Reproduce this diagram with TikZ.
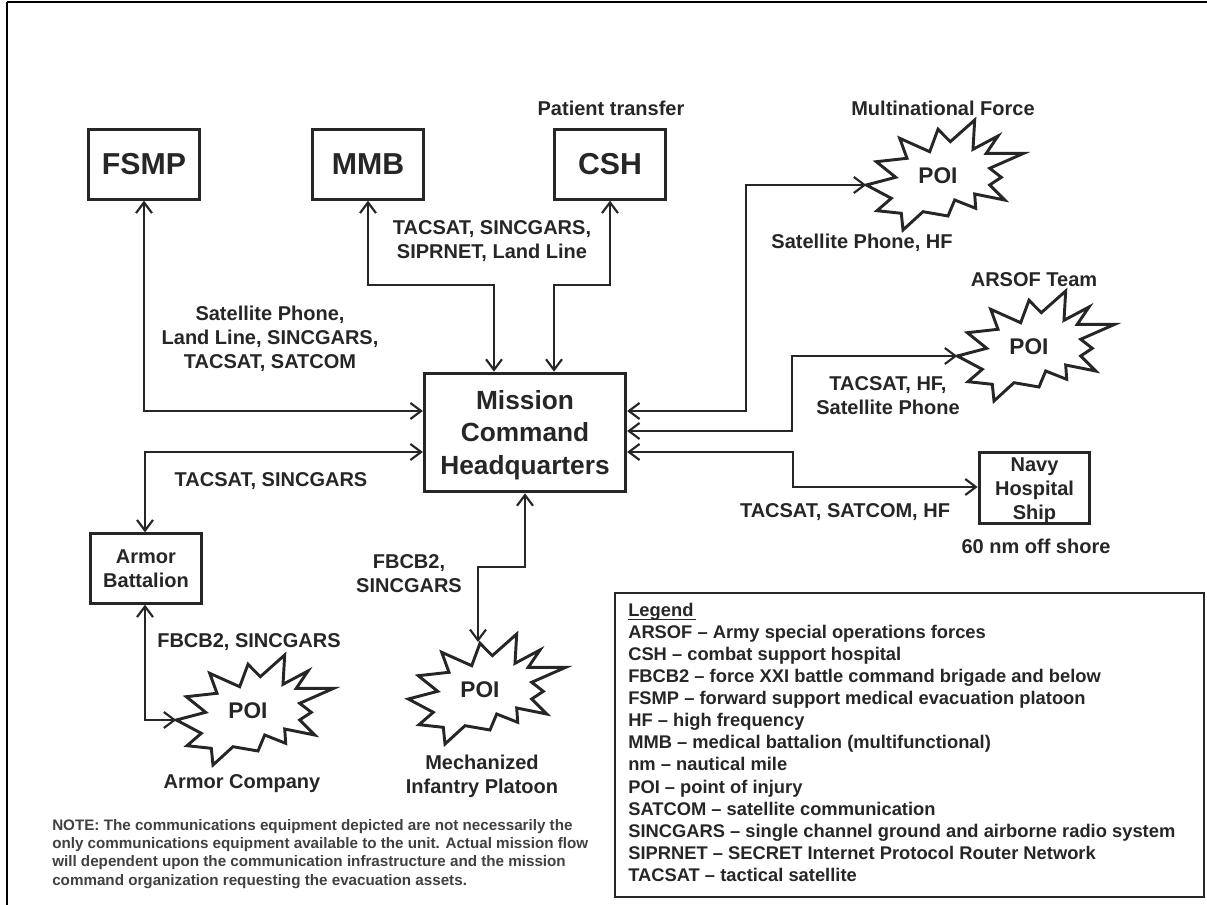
\documentclass[tikz,border=0pt]{standalone}
\usepackage{fontspec}
\setmainfont{Liberation Sans}
\usetikzlibrary{arrows.meta}
\colorlet{ink}{black!85}
\tikzset{
 boxa/.style={draw=ink,line width=2.2pt,fill=white,inner sep=0pt,align=center,text=ink,font=\fontsize{22.7}{26}\selectfont\bfseries},
 lab/.style={align=center,text=ink,inner sep=0pt,font=\fontsize{15}{18}\selectfont\bfseries},
 conn/.style={draw=ink,line width=1.6pt,{Straight Barb[length=8pt,width=12pt,line width=1.6pt]}-{Straight Barb[length=8pt,width=12pt,line width=1.6pt]}},
 burstline/.style={draw=ink,line width=2.2pt,line join=miter,fill=white,miter limit=8}
}
\newcommand{\burst}[3]{%
 \draw[burstline,shift={(#2,#3)}] (-71.7,9) coordinate (#1tipL) -- (-42.3,1.3) -- (-61.7,-14.3) -- (-31,-17.7) -- (-38.3,-37.7) -- (-8.3,-24.3) -- (0,-46.7) -- (12.3,-34.3) -- (36.7,-56) -- (35,-26.7) -- (60,-40) -- (48.3,-22.7) -- (85.7,-22.7) -- (51.7,-7.7) -- (63.3,1.3) -- (51.7,9) -- (66.7,24) -- (36.7,18) -- (37.7,32.3) -- (16.7,24) -- (10,40) -- (-15,35.7) -- (-35,54) -- (-36.7,37.3) -- (-61,34.7) -- (-46.7,22.3) -- cycle;
 \node[font=\fontsize{17}{20}\selectfont\bfseries,text=ink,inner sep=0pt] (#1) at (#2,#3) {POI};
}
\begin{document}
\begin{tikzpicture}[x=0.75pt,y=-0.75pt]
\useasboundingbox (0,0) rectangle (1207,905);
\draw[black,line width=2.2pt] (7,2) -- (7,905);
\draw[black,line width=2.2pt] (7,2) -- (1207,2);
% boxes
\node[boxa,minimum width=83pt,minimum height=52pt] (fsmp) at (144,164.5) {FSMP};
\node[boxa,minimum width=83pt,minimum height=52pt] (mmb) at (368,164.5) {MMB};
\node[boxa,minimum width=83pt,minimum height=52pt] (csh) at (610,164.5) {CSH};
\node[boxa,minimum width=151pt,minimum height=89pt,font=\fontsize{19.7}{24.3}\selectfont\bfseries] (hq) at (525,432.5) {\rule{0pt}{18pt}Mission\\Command\\Headquarters};
\node[boxa,minimum width=83pt,minimum height=52pt,font=\fontsize{15}{18}\selectfont\bfseries] (armor) at (146,568.5) {Armor\\Battalion};
\node[boxa,minimum width=83pt,minimum height=52pt,font=\fontsize{15}{18}\selectfont\bfseries] (navy) at (1034.5,488) {\rule{0pt}{14pt}Navy\\Hospital\\Ship};
% bursts
\burst{poia}{938}{176}
\burst{poib}{1029}{347}
\burst{poic}{248}{711}
\burst{poid}{480}{690}
\coordinate (poidtop) at (478,642);
% connectors
\draw[conn] (fsmp.south) -- (144,411) -- (hq.west |- 0,411);
\draw[conn] (armor.north -| 145,0) -- (145,452) -- (hq.west |- 0,452);
\draw[conn] (armor.south -| 145,0) -- (145,720) -- (poictipL);
\draw[conn] (mmb.south) -- (368,285) -- (494,285) -- (hq.north -| 494,0);
\draw[conn] (csh.south) -- (610,285) -- (554,285) -- (hq.north -| 554,0);
\draw[conn] (hq.east |- 0,411) -- (746,411) -- (746,185) -- (poiatipL);
\draw[conn] (hq.east |- 0,431) -- (792,431) -- (792,356) -- (poibtipL);
\draw[conn] (hq.east |- 0,452) -- (793,452) -- (793,487) -- (navy.west |- 0,487);
\draw[conn] (hq.south) -- (525,567) -- (478,567) -- (poidtop);
% labels
\node[lab] (l1) at (611,108) {Patient transfer};
\node[lab] (l2) at (943,108) {Multinational Force};
\node[lab] (l3) at (1034,280) {ARSOF Team};
\node[lab] (l4) at (492,241) {TACSAT, SINCGARS,\\SIPRNET, Land Line};
\node[lab] (l5) at (270,339) {Satellite Phone,\\Land Line, SINCGARS,\\TACSAT, SATCOM};
\node[lab] (l6) at (271,481) {TACSAT, SINCGARS};
\node[lab] (l7) at (862,243) {Satellite Phone, HF};
\node[lab] (l8) at (888,396) {TACSAT, HF,\\Satellite Phone};
\node[lab] (l9) at (845,512) {TACSAT, SATCOM, HF};
\node[lab] (l10) at (1036,546) {60 nm off shore};
\node[lab] (l11) at (409,574) {FBCB2,\\SINCGARS};
\node[lab] (l12) at (249,642) {FBCB2, SINCGARS};
\node[lab] (l13) at (242,784) {Armor Company};
\node[lab] (l14) at (482,776) {Mechanized\\Infantry Platoon};
\node[lab,anchor=north west,align=left,text=black!75,font=\fontsize{11.4}{13.7}\selectfont\bfseries] (note) at (52,819) {NOTE:  The communications equipment depicted are not necessarily the\\only communications equipment available to the unit.  Actual mission flow\\will dependent upon the communication infrastructure and the mission\\command organization requesting the evacuation assets.};
\node[draw=ink,line width=1.5pt,anchor=north west,minimum width=441.75pt,minimum height=228pt,inner sep=0pt] (legbox) at (614,592) {};
\node[lab,anchor=north west,align=left,font=\fontsize{13.75}{16.6}\selectfont\bfseries] (legend) at (628,602.5) {\rlap{\rule[-3.3pt]{50.5pt}{1pt}}Legend\\ARSOF -- Army special operations forces\\CSH -- combat support hospital\\FBCB2 -- force XXI battle command brigade and below\\FSMP -- forward support medical evacuation platoon\\HF -- high frequency\\MMB -- medical battalion (multifunctional)\\nm -- nautical mile\\POI -- point of injury\\SATCOM -- satellite communication\\SINCGARS -- single channel ground and airborne radio system\\SIPRNET -- SECRET Internet Protocol Router Network\\TACSAT -- tactical satellite};
\end{tikzpicture}
\end{document}
